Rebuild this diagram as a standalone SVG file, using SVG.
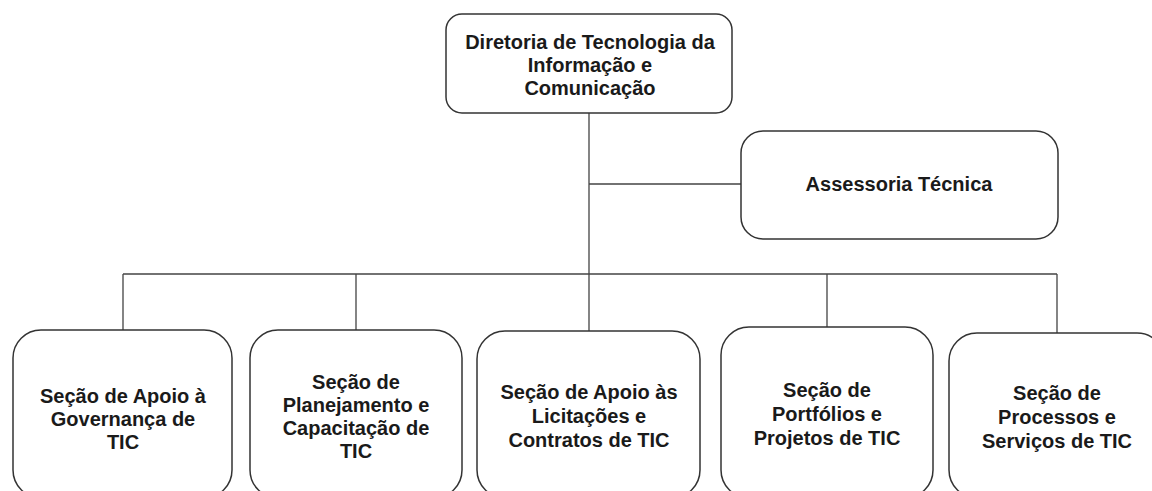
<svg xmlns="http://www.w3.org/2000/svg" width="1152" height="491" viewBox="0 0 1152 491">
<style>
.box{fill:#fff;stroke:#333;stroke-width:1.5}
.conn{fill:none;stroke:#444;stroke-width:1.3}
text{font-family:"Liberation Sans",Arial,sans-serif;font-weight:bold;font-size:20px;fill:#1a1a1a;text-anchor:middle}
</style>
<rect width="1152" height="491" fill="#fff"/>
<g id="connectors">
<path class="conn" d="M589 113 V274 M589 184 H741 M123 274 H1057 M123 274 V330 M356 274 V330 M589 274 V331 M827 274 V327 M1057 274 V333"/>
</g>
<g id="diretoria">
<rect class="box" x="446" y="14" width="286" height="99" rx="16"/>
<text x="590" y="49">Diretoria de Tecnologia da</text>
<text x="590" y="72">Informação e</text>
<text x="590" y="95">Comunicação</text>
</g>
<g id="assessoria">
<rect class="box" x="741" y="131" width="317" height="108" rx="22"/>
<text x="899" y="191">Assessoria Técnica</text>
</g>
<g id="secao-governanca">
<rect class="box" x="13" y="330" width="219" height="168" rx="28"/>
<text x="123" y="403">Seção de Apoio à</text>
<text x="123" y="426">Governança de</text>
<text x="123" y="449">TIC</text>
</g>
<g id="secao-planejamento">
<rect class="box" x="250" y="330" width="212" height="168" rx="28"/>
<text x="356" y="389">Seção de</text>
<text x="356" y="412">Planejamento e</text>
<text x="356" y="435">Capacitação de</text>
<text x="356" y="458">TIC</text>
</g>
<g id="secao-licitacoes">
<rect class="box" x="477" y="331" width="223" height="167" rx="28"/>
<text x="589" y="399">Seção de Apoio às</text>
<text x="589" y="423">Licitações e</text>
<text x="589" y="447">Contratos de TIC</text>
</g>
<g id="secao-portfolios">
<rect class="box" x="721" y="327" width="212" height="171" rx="28"/>
<text x="827" y="397">Seção de</text>
<text x="827" y="421">Portfólios e</text>
<text x="827" y="445">Projetos de TIC</text>
</g>
<g id="secao-processos">
<rect class="box" x="949" y="333" width="216" height="165" rx="28"/>
<text x="1057" y="400">Seção de</text>
<text x="1057" y="424">Processos e</text>
<text x="1057" y="448">Serviços de TIC</text>
</g>
</svg>
